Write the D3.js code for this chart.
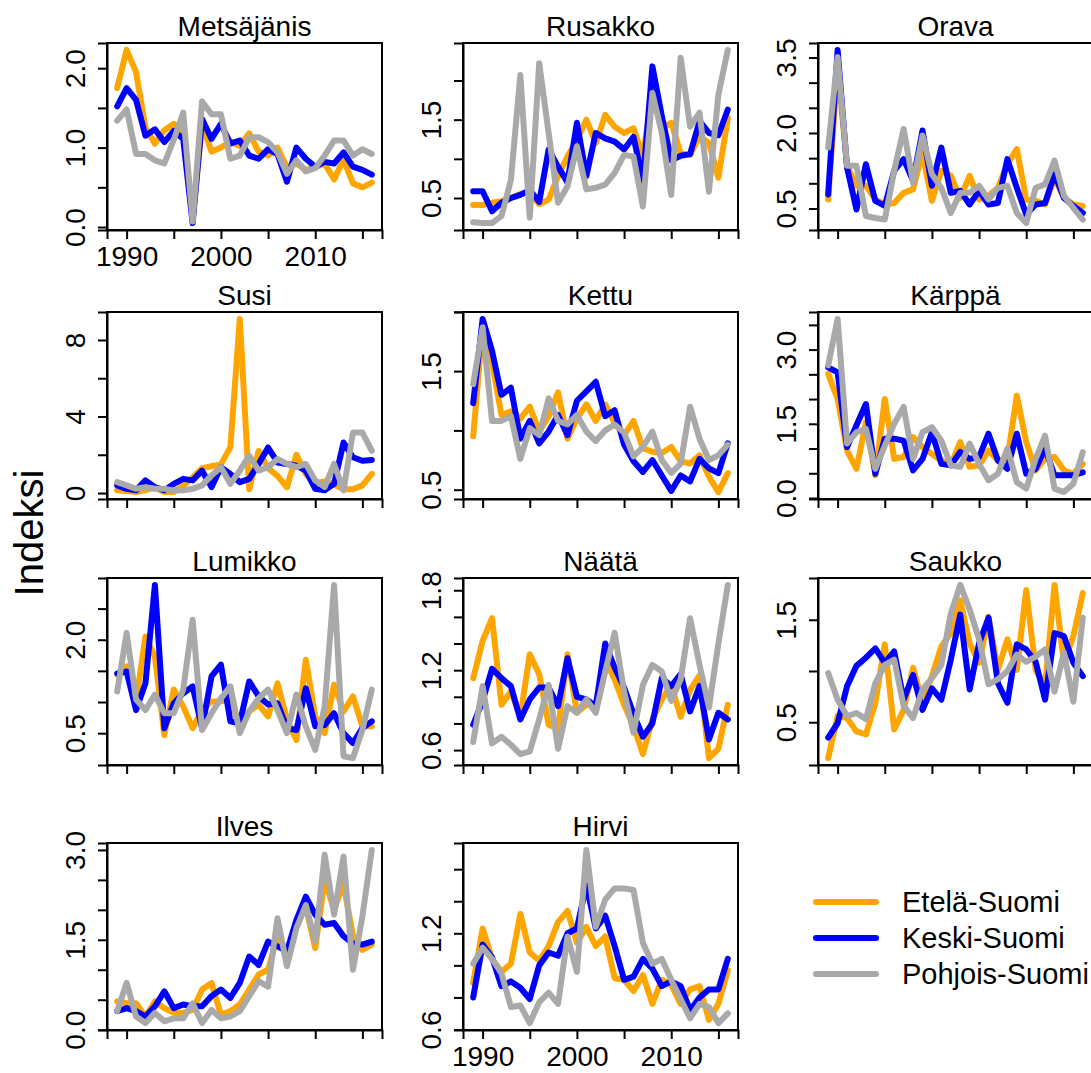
<!DOCTYPE html>
<html>
<head>
<meta charset="utf-8">
<script src="https://cdn.jsdelivr.net/npm/d3@7"></script>
<style>
    body { margin: 0; background: #fff; }
    text { font-family: 'Liberation Sans', Arial, sans-serif; fill: #000; }
</style>
</head>
<body>
<svg id="chart" width="1091" height="1073"></svg>
<script>
const years = [1989, 1990, 1991, 1992, 1993, 1994, 1995, 1996, 1997, 1998, 1999, 2000, 2001, 2002,
    2003, 2004, 2005, 2006, 2007, 2008, 2009, 2010, 2011, 2012, 2013, 2014, 2015, 2016];

const regions = ['Etelä-Suomi', 'Keski-Suomi', 'Pohjois-Suomi'];
const regionColors = ['#FFA500', '#0000FF', '#A9A9A9'];

const xTicks = [1990, 1995, 2000, 2005, 2010, 2015];
const xLabels = [1990, 2000, 2010];

// each species: [Etelä, Keski, Pohjois]
const metsajanis = [
    [1.75, 2.23, 1.95, 1.25, 1.05, 1.22, 1.3, 1.2, 0.08, 1.3, 0.95, 1.0, 1.08, 1.02, 1.18, 0.95, 0.9, 1.0, 0.75, 0.8, 0.72, 0.75, 0.8, 0.6, 0.85, 0.55, 0.5, 0.56],
    [1.52, 1.75, 1.6, 1.15, 1.23, 1.07, 1.21, 1.11, 0.05, 1.36, 1.11, 1.3, 1.05, 1.09, 0.9, 0.86, 0.98, 0.92, 0.57, 1.0, 0.86, 0.76, 0.82, 0.8, 0.94, 0.76, 0.72, 0.66],
    [1.34, 1.48, 0.92, 0.92, 0.84, 0.8, 1.1, 1.44, 0.07, 1.58, 1.42, 1.42, 0.86, 0.9, 1.13, 1.13, 1.07, 0.94, 0.67, 0.84, 0.7, 0.74, 0.9, 1.09, 1.09, 0.9, 0.98, 0.92]
];
const rusakko = [
    [0.41, 0.41, 0.44, 0.46, 0.5, 0.55, 0.58, 0.42, 0.48, 0.78, 1.03, 1.24, 1.5, 1.2, 1.56, 1.41, 1.33, 1.39, 1.03, 1.84, 1.39, 1.46, 1.07, 1.05, 1.29, 1.2, 0.76, 1.52],
    [0.585, 0.585, 0.33, 0.44, 0.5, 0.54, 0.6, 0.45, 1.12, 0.9, 0.7, 1.46, 0.78, 1.33, 1.26, 1.22, 1.12, 1.28, 0.72, 2.18, 1.55, 0.98, 1.04, 1.06, 1.48, 1.33, 1.3, 1.63],
    [0.19, 0.18, 0.18, 0.27, 0.73, 2.07, 0.25, 2.22, 1.33, 0.44, 0.65, 1.16, 0.61, 0.63, 0.67, 0.82, 1.05, 1.03, 0.39, 1.84, 1.33, 0.54, 2.29, 1.41, 1.59, 0.58, 1.82, 2.39]
];
const orava = [
    [0.68, 3.31, 1.35, 0.95, 0.95, 0.68, 0.58, 0.61, 0.81, 0.88, 1.61, 0.65, 1.25, 1.15, 0.71, 1.15, 0.68, 0.75, 0.91, 1.38, 1.68, 0.68, 0.65, 0.58, 1.11, 0.71, 0.58, 0.55],
    [0.78, 3.65, 1.31, 0.48, 1.38, 0.65, 0.55, 1.25, 1.48, 1.05, 2.05, 0.95, 1.71, 0.81, 0.85, 0.58, 0.85, 0.58, 0.61, 1.48, 0.91, 0.38, 0.58, 0.61, 1.18, 0.71, 0.55, 0.41],
    [1.71, 3.51, 1.35, 1.35, 0.35, 0.31, 0.28, 1.25, 2.08, 1.01, 1.95, 1.18, 0.91, 0.41, 0.81, 0.81, 0.95, 0.68, 0.91, 0.95, 0.41, 0.21, 0.91, 0.98, 1.45, 0.75, 0.51, 0.28]
];
const susi = [
    [0.15, 0.1, 0.05, 0.15, 0.3, 0.05, 0.05, 0.4, 0.8, 1.3, 1.4, 1.5, 2.4, 9.1, 0.2, 2.2, 1.3, 0.9, 0.3, 2.0, 1.0, 0.5, 0.6, 0.45, 0.2, 0.2, 0.4, 1.0],
    [0.4, 0.22, 0.14, 0.66, 0.31, 0.14, 0.48, 0.74, 0.66, 1.17, 0.31, 1.35, 1.0, 0.57, 0.74, 1.52, 2.38, 1.6, 1.52, 1.43, 1.17, 0.22, 0.14, 0.48, 2.64, 1.87, 1.69, 1.73],
    [0.57, 0.4, 0.22, 0.31, 0.22, 0.22, 0.14, 0.14, 0.22, 0.4, 0.92, 1.35, 0.48, 1.17, 1.95, 1.17, 1.35, 1.78, 1.52, 1.35, 1.52, 0.66, 0.31, 1.52, 0.14, 3.16, 3.16, 2.21]
];
const kettu = [
    [0.95, 1.87, 1.57, 1.13, 1.16, 1.1, 1.2, 0.99, 1.12, 1.32, 0.93, 1.1, 1.22, 1.08, 1.22, 1.06, 0.96, 1.08, 0.85, 0.82, 0.81, 0.86, 0.74, 0.72, 0.79, 0.61, 0.48, 0.64],
    [1.23, 1.94, 1.67, 1.3, 1.36, 0.93, 1.08, 0.89, 0.99, 1.13, 0.96, 1.25, 1.33, 1.41, 1.12, 1.17, 0.88, 0.74, 0.65, 0.75, 0.62, 0.49, 0.62, 0.57, 0.76, 0.68, 0.64, 0.89],
    [1.39, 1.87, 1.08, 1.08, 1.12, 0.76, 1.02, 0.96, 1.27, 1.08, 1.05, 1.13, 0.99, 0.91, 1.0, 1.05, 0.98, 0.78, 0.86, 0.99, 0.75, 0.64, 0.72, 1.2, 0.93, 0.75, 0.79, 0.88]
];
const karppa = [
    [2.51, 2.0, 0.96, 0.59, 1.53, 0.46, 2.0, 0.79, 0.83, 1.23, 1.03, 0.89, 0.76, 0.66, 1.13, 0.63, 0.66, 0.96, 0.76, 0.79, 2.07, 1.13, 0.56, 0.79, 0.83, 0.56, 0.49, 0.69],
    [2.64, 2.54, 1.03, 1.47, 1.9, 0.49, 1.2, 1.2, 1.16, 0.56, 0.79, 1.33, 0.69, 0.66, 0.93, 0.79, 0.83, 1.3, 0.76, 0.59, 1.3, 0.49, 0.59, 1.0, 0.46, 0.46, 0.46, 0.52],
    [2.68, 3.62, 1.1, 1.33, 1.4, 0.59, 1.06, 1.5, 1.84, 0.79, 1.33, 1.43, 1.16, 0.66, 0.63, 1.1, 0.69, 0.36, 0.49, 1.0, 0.32, 0.19, 0.79, 1.26, 0.19, 0.12, 0.29, 0.93]
];
const lumikko = [
    [1.44, 1.57, 1.01, 2.05, 1.73, 0.47, 1.2, 0.93, 0.58, 0.87, 1.01, 1.01, 1.04, 0.61, 0.85, 0.96, 0.77, 1.3, 0.71, 0.39, 1.68, 0.77, 0.5, 1.28, 0.85, 1.09, 0.61, 0.61],
    [1.46, 1.49, 0.87, 1.3, 2.88, 0.58, 0.98, 1.14, 1.25, 0.58, 1.41, 1.6, 0.69, 0.66, 1.33, 1.09, 0.96, 0.98, 0.58, 0.55, 1.22, 0.61, 0.63, 0.82, 0.5, 0.34, 0.58, 0.69],
    [1.17, 2.11, 1.04, 0.87, 1.12, 0.82, 0.82, 1.2, 2.32, 0.55, 0.82, 1.06, 1.25, 0.5, 0.85, 1.06, 1.2, 0.87, 0.5, 1.12, 0.61, 0.23, 0.93, 2.88, 0.13, 0.1, 0.55, 1.2]
];
const naata = [
    [1.14, 1.42, 1.59, 0.94, 1.04, 0.85, 1.32, 1.17, 0.79, 0.76, 1.32, 0.88, 0.94, 0.94, 1.28, 1.13, 0.94, 0.78, 0.57, 0.83, 0.98, 1.09, 0.85, 1.05, 1.16, 0.54, 0.61, 0.94],
    [0.79, 0.97, 1.21, 1.14, 1.08, 0.83, 0.98, 1.07, 1.07, 0.93, 1.29, 1.0, 0.98, 0.93, 1.4, 1.22, 1.07, 0.87, 0.7, 0.8, 1.14, 1.08, 1.17, 0.89, 1.08, 0.68, 0.88, 0.83],
    [0.66, 1.08, 0.65, 0.7, 0.64, 0.57, 0.59, 0.83, 1.09, 0.61, 0.93, 0.88, 0.98, 0.88, 1.19, 1.48, 1.04, 0.73, 1.09, 1.24, 1.19, 0.97, 1.13, 1.59, 1.24, 0.92, 1.4, 1.84]
];
const saukko = [
    [0.15, 0.56, 0.54, 0.41, 0.38, 0.69, 1.26, 0.43, 0.62, 1.03, 0.7, 0.95, 1.24, 1.37, 1.69, 1.27, 1.08, 1.53, 1.01, 1.31, 1.01, 1.79, 1.01, 0.85, 1.84, 1.08, 1.34, 1.76],
    [0.35, 0.49, 0.85, 1.05, 1.13, 1.22, 1.08, 1.19, 0.72, 0.96, 0.62, 0.83, 0.72, 1.11, 1.55, 0.82, 1.27, 1.52, 0.88, 0.69, 1.26, 1.21, 1.09, 0.72, 1.37, 1.34, 1.08, 0.95],
    [0.98, 0.72, 0.56, 0.59, 0.53, 0.88, 1.06, 1.11, 0.66, 0.54, 0.82, 0.93, 1.06, 1.56, 1.84, 1.6, 1.31, 0.87, 0.92, 1.0, 1.16, 1.09, 1.14, 1.21, 0.8, 1.18, 0.7, 1.52]
];
const ilves = [
    [0.47, 0.44, 0.44, 0.22, 0.47, 0.36, 0.28, 0.28, 0.33, 0.67, 0.78, 0.25, 0.31, 0.42, 0.67, 0.92, 1.0, 1.56, 1.19, 1.72, 2.06, 1.36, 2.5, 2.0, 2.44, 1.56, 1.33, 1.42],
    [0.31, 0.36, 0.31, 0.22, 0.39, 0.64, 0.36, 0.42, 0.39, 0.39, 0.56, 0.67, 0.53, 0.78, 1.22, 1.08, 1.47, 1.39, 1.31, 1.83, 2.22, 1.92, 1.75, 1.78, 1.56, 1.44, 1.42, 1.47],
    [0.31, 0.78, 0.22, 0.11, 0.28, 0.14, 0.19, 0.19, 0.44, 0.11, 0.33, 0.19, 0.22, 0.31, 0.56, 0.81, 0.72, 1.86, 1.06, 1.69, 2.08, 1.47, 2.92, 1.92, 2.89, 1.0, 1.89, 3.0]
];
const hirvi = [
    [0.89, 1.23, 1.04, 0.96, 1.01, 1.32, 1.08, 1.03, 1.12, 1.27, 1.34, 1.14, 1.24, 1.12, 1.18, 0.92, 0.91, 0.84, 0.94, 0.76, 0.91, 0.88, 0.76, 0.85, 0.87, 0.66, 0.76, 0.97],
    [0.8, 1.13, 1.05, 0.87, 0.9, 0.86, 0.79, 1.0, 1.08, 1.06, 1.2, 1.23, 1.5, 1.23, 1.31, 1.12, 0.91, 0.93, 1.04, 0.98, 0.87, 0.9, 0.87, 0.72, 0.8, 0.85, 0.85, 1.04],
    [1.01, 1.11, 1.04, 0.95, 0.74, 0.75, 0.64, 0.77, 0.83, 0.76, 1.18, 0.96, 1.72, 1.24, 1.41, 1.48, 1.48, 1.47, 1.14, 1.01, 1.04, 0.91, 0.79, 0.67, 0.76, 0.74, 0.64, 0.7]
];

const titles = ['Metsäjänis', 'Rusakko', 'Orava', 'Susi', 'Kettu', 'Kärppä',
    'Lumikko', 'Näätä', 'Saukko', 'Ilves', 'Hirvi'];
const speciesData = [metsajanis, rusakko, orava, susi, kettu, karppa,
    lumikko, naata, saukko, ilves, hirvi];

// y tick marks and the labels R kept after dropping overlapping ones
const yTicks = [
    [0, 0.5, 1, 1.5, 2],
    [0.5, 1, 1.5, 2],
    [0.5, 1, 1.5, 2, 2.5, 3, 3.5],
    [0, 2, 4, 6, 8],
    [0.5, 1, 1.5, 2],
    [0, 0.5, 1, 1.5, 2, 2.5, 3, 3.5],
    [0.5, 1, 1.5, 2, 2.5],
    [0.6, 0.8, 1, 1.2, 1.4, 1.6, 1.8],
    [0.5, 1, 1.5],
    [0, 0.5, 1, 1.5, 2, 2.5, 3],
    [0.6, 0.8, 1, 1.2, 1.4, 1.6]
];
const yLabels = [
    [0, 1, 2],
    [0.5, 1.5],
    [0.5, 2, 3.5],
    [0, 4, 8],
    [0.5, 1.5],
    [0, 1.5, 3],
    [0.5, 2],
    [0.6, 1.2, 1.8],
    [0.5, 1.5],
    [0, 1.5, 3],
    [0.6, 1.2]
];
// panels that print the year labels
const showYears = [0, 10];

const svg = d3.select('#chart');

const boxWidth = 275;
const boxHeight = 187;
const colLeft = [107, 463, 818];
const rowTop = [43, 312, 578, 843];
const tickFont = 28;

// R style axis range: data range stretched 4% at both ends
const padExtent = (ext) => {
    const d = (ext[1] - ext[0]) * 0.04;
    return [ext[0] - d, ext[1] + d];
};

const line = (xScale, yScale) => d3.line()
    .x((v, i) => xScale(years[i]))
    .y((v) => yScale(v));

speciesData.forEach((series, p) => {
    const left = colLeft[p % 3];
    const top = rowTop[Math.floor(p / 3)];
    const bottom = top + boxHeight;

    const xScale = d3.scaleLinear()
        .domain(padExtent(d3.extent(years)))
        .range([left, left + boxWidth]);
    const yScale = d3.scaleLinear()
        .domain(padExtent(d3.extent(series.flat())))
        .range([bottom, top]);

    const g = svg.append('g');

    series.forEach((values, r) => {
        g.append('path')
            .attr('d', line(xScale, yScale)(values))
            .attr('fill', 'none')
            .attr('stroke', regionColors[r])
            .attr('stroke-width', 6)
            .attr('stroke-linejoin', 'round')
            .attr('stroke-linecap', 'round');
    });

    const decimals = p === 3 ? 0 : 1;
    const yAxis = d3.axisLeft(yScale)
        .tickValues(yTicks[p])
        .tickSize(9)
        .tickFormat((d) => yLabels[p].includes(d) ? d.toFixed(decimals) : '');

    const yAxisGroup = g.append('g')
        .attr('transform', `translate(${left}, 0)`)
        .call(yAxis);
    yAxisGroup.selectAll('text')
        .attr('transform', 'rotate(-90)')
        .attr('x', 0)
        .attr('y', -22)
        .attr('dy', null)
        .attr('text-anchor', 'middle');

    const xAxis = d3.axisBottom(xScale)
        .tickValues(xTicks)
        .tickSize(9)
        .tickFormat((d) => showYears.includes(p) && xLabels.includes(d) ? d : '');

    const xAxisGroup = g.append('g')
        .attr('transform', `translate(0, ${bottom})`)
        .call(xAxis);
    xAxisGroup.selectAll('text')
        .attr('y', 36)
        .attr('dy', null);

    [yAxisGroup, xAxisGroup].forEach((ax) => {
        ax.attr('font-size', tickFont)
            .attr('font-family', null);
        ax.selectAll('line').attr('stroke', '#000').attr('stroke-width', 2);
        ax.select('.domain').attr('stroke', '#000').attr('stroke-width', 2);
    });

    g.append('rect')
        .attr('x', left)
        .attr('y', top)
        .attr('width', boxWidth)
        .attr('height', boxHeight)
        .attr('fill', 'none')
        .attr('stroke', '#000')
        .attr('stroke-width', 2);

    g.append('text')
        .attr('x', left + boxWidth / 2)
        .attr('y', top - 7)
        .attr('text-anchor', 'middle')
        .attr('font-size', 28)
        .text(titles[p]);
});

svg.append('text')
    .attr('transform', 'translate(43, 533) rotate(-90)')
    .attr('text-anchor', 'middle')
    .attr('font-size', 40)
    .text('Indeksi');

const legend = svg.append('g')
    .attr('transform', 'translate(816, 902)');

regions.forEach((name, r) => {
    legend.append('line')
        .attr('x1', 0)
        .attr('x2', 60)
        .attr('y1', r * 36)
        .attr('y2', r * 36)
        .attr('stroke', regionColors[r])
        .attr('stroke-width', 6)
        .attr('stroke-linecap', 'round');
    legend.append('text')
        .attr('x', 86)
        .attr('y', r * 36 + 10)
        .attr('font-size', 29)
        .text(name);
});
</script>
</body>
</html>
